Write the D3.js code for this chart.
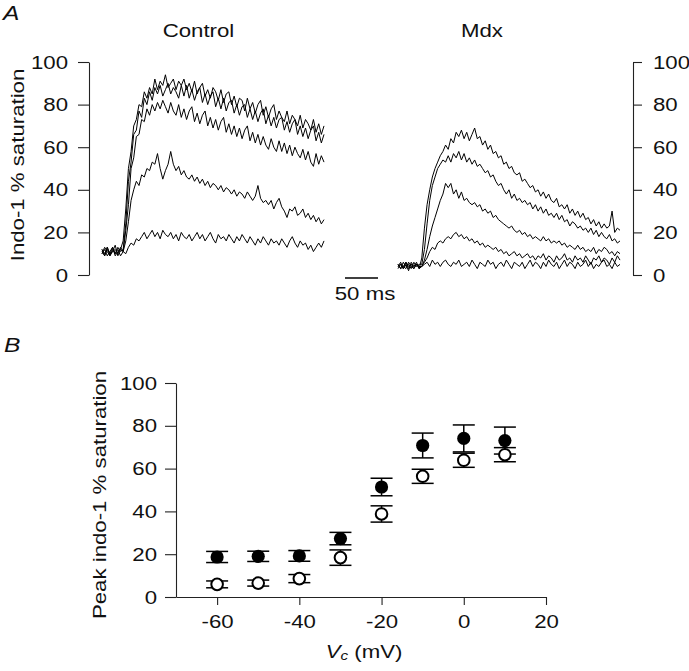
<!DOCTYPE html>
<html><head><meta charset="utf-8">
<script src="https://cdn.jsdelivr.net/npm/d3@7"></script>
<style>
body{margin:0;background:#fff;}
svg{display:block;font-family:"Liberation Sans",Arial,Helvetica,sans-serif;}
</style></head><body>
<svg id="c" width="689" height="671"></svg>
<script>
// ---------- Panel A: indo-1 traces (sampled every 4 ms, 0-336 ms) ----------
const SAMPLE_MS = 4;
const TRACE_MS = 336;
const control1 = [12,9,13,10,11,14,9,12, 16,31,50,58,70,73,80,79,86,83,88,85,
  92,87,91,89,94,88,90,92,87,91,89,
  92,87,90,86,91,85,88,90,84,87, 83,88,86,82,87,81,85,86,80,84, 79,83,82,77,83,78,81,76,80,82,
  75,79,74,78,80,73,77,74,72,77, 71,75,73,70,75,69,73,71,68,73, 67,71,66,70];
const control2 = [10,13,11,9,12,10,13,11, 12,24,44,53,66,68,77,74,83,80,86,82,
  88,85,89,84,87,90,85,88,86,83,89,
  84,89,83,87,82,86,88,81,85,80, 84,86,79,83,78,83,77,81,82,76, 80,75,79,80,74,78,73,77,72,76,
  78,71,75,70,74,69,73,74,68,72, 67,71,73,66,70,65,69,64,68,70, 63,67,62,66];
const control3 = [11,9,12,10,13,9,11,12, 11,21,33,50,55,65,66,73,72,78,75,80,
  77,81,78,82,79,
  76,81,77,75,80,74,78,73,77,79, 72,76,71,75,77,70,74,69,73,68, 72,74,67,71,66,70,65,69,64,68,
  70,63,67,62,66,61,65,61,59,64, 60,58,63,58,62,57,61,56,60,57, 55,59,54,58,53,51,57,52,56,53];
const control4 = [10,12,9,11,13,10,12,9,11, 16,25,35,40,44,42,47,46,50,49,53,52,
  57,50,45,49,52,58,52,49,51,47, 49,46,45,47,44,46,43,45,42,44, 41,43,42,40,42,39,41,40,38,40,
  37,39,38,36,39,37,35,37,42,36, 34,35,33,35,31,34,36,32,30,27, 31,30,32,28,29,31,27,29,26,28,
  25,27,24,26];
const control5 = [12,10,13,9,11,12,10,13,11,
  10,13,15,14,17,16,18,20,17,19, 21,18,20,17,21,19,18,20,17,19, 16,20,18,17,19,16,18,20,17,19,
  16,18,20,17,15,19,17,18,16,19, 17,15,18,16,19,17,15,18,16,14, 17,15,18,16,14,17,15,16,14,17,
  15,13,16,18,15,13,16,14,15,12, 14,11,13,15,13,16];

const mdx1 = [4,6,3,5,2,6,4,5,3,
  8,22,33,40,46,50,53,56,58,61, 59,64,62,67,65,68,64,67,63,66, 69,64,65,61,63,59,61,57,58,55,
  56,52,53,50,51,48,47,48,44,45, 43,41,42,39,40,37,39,36,38,35, 34,36,32,33,31,33,29,31,28,30,
  27,29,26,27,24,26,23,25,22,24, 22,23,30,20,22,21];
const mdx2 = [5,3,6,4,5,3,6,4,5,
  5,12,24,35,42,46,50,52,54,53, 56,53,57,55,58,54,57,53,55,52, 54,51,52,50,48,49,46,47,44,42,
  43,40,38,40,36,38,35,36,34,35, 33,34,31,33,30,32,29,31,28,29, 27,29,26,28,25,26,23,25,24,22,
  23,21,22,20,22,19,21,18,20,18, 17,19,16,17,15,16];
const mdx3 = [4,5,3,6,4,5,3,5,4,
  4,7,12,18,23,27,31,35,38,43, 41,43,38,40,36,39,35,36,34,33, 34,32,33,30,31,29,30,27,28,26,
  25,24,23,22,23,21,20,21,19,20, 18,19,17,18,17,16,18,16,17,15, 16,15,16,14,15,13,14,13,12,14,
  12,13,11,12,11,13,10,12,11,13, 12,10,11,9,11,10];
const mdx4 = [3,5,4,3,6,4,3,5,4,
  4,6,8,11,13,12,15,16,15,17, 18,17,19,20,18,19,17,18,16,17, 15,16,14,15,13,14,13,12,13,11,
  12,10,11,9,10,11,9,10,8,9, 10,8,9,7,9,8,10,7,9,8, 6,9,7,8,10,7,8,6,9,7,
  8,6,9,7,5,8,7,9,6,8, 7,5,8,6,9,7];
const mdx5 = [5,3,4,6,3,5,4,6,3,4, 5,6,4,7,5,6,4,6,7,5, 4,6,5,7,4,5,6,4,7,5, 3,6,5,4,7,5,6,3,5,6,
  4,7,5,3,6,5,4,6,3,5, 7,4,6,5,3,6,4,7,5,4, 6,3,5,7,4,6,5,3,6,4, 5,7,4,6,3,5,4,6,7,4, 5,3,6,4,5];

const controlTraces = [control1, control2, control3, control4, control5];
const mdxTraces = [mdx1, mdx2, mdx3, mdx4, mdx5];
const satTicks = [0, 20, 40, 60, 80, 100];
const scaleBarMs = 50;

// ---------- Panel B: peak indo-1 vs Vc ----------
const voltages = [-60, -50, -40, -30, -20, -10, 0, 10];
const controlPeak = [18.7, 19.0, 19.2, 27.3, 51.4, 70.8, 74.1, 73.1];
const controlSem  = [2.6, 2.4, 2.5, 2.9, 4.1, 5.8, 6.3, 6.3];
const mdxPeak = [5.9, 6.5, 8.6, 18.4, 38.8, 56.4, 63.9, 66.5];
const mdxSem  = [1.6, 1.4, 1.9, 3.6, 3.8, 3.3, 3.3, 3.3];
const vcTicks = [-60, -40, -20, 0, 20];

// ---------- drawing ----------
const SX = 1.17;        // horizontal stretch of the original lettering
const FS = 19;
const INK = "#111";
const svg = d3.select("#c");

function stretch(sel, rot) {
  sel.each(function () {
    const t = d3.select(this);
    const x = +t.attr("x") || 0, y = +t.attr("y") || 0;
    t.attr("x", 0).attr("y", 0)
     .attr("transform", `translate(${x},${y})${rot ? " rotate(" + rot + ")" : ""} scale(${SX},1)`);
  });
}
function label(txt, x, y, anchor, opts = {}) {
  const t = svg.append("text").attr("x", x).attr("y", y)
    .attr("text-anchor", anchor).attr("font-size", opts.size || FS)
    .attr("fill", INK).text(txt);
  if (opts.italic) t.attr("font-style", "italic");
  stretch(t, opts.rot);
  return t;
}
function styleAxis(g) {
  g.attr("font-size", FS).attr("font-family", null).attr("color", "#222");
  g.selectAll("path,line").attr("stroke-width", 1.1);
  stretch(g.selectAll("text").attr("fill", INK));
}
const plain = d => String(d);

// Panel A scales
const yA = d3.scaleLinear().domain([0, 100]).range([275, 62]);
const tCtrl = d3.scaleLinear().domain([0, TRACE_MS]).range([102, 324]);
const tMdx = d3.scaleLinear().domain([0, TRACE_MS]).range([398, 620]);

svg.append("g").attr("transform", "translate(89,0)")
  .call(d3.axisLeft(yA).tickValues(satTicks).tickFormat(plain).tickSize(11).tickSizeOuter(0).tickPadding(10))
  .call(styleAxis);
svg.append("g").attr("transform", "translate(633,0)")
  .call(d3.axisRight(yA).tickValues(satTicks).tickFormat(plain).tickSize(9).tickSizeOuter(0).tickPadding(11))
  .call(styleAxis);

const lineC = d3.line().x((d, i) => tCtrl(i * SAMPLE_MS)).y(d => yA(d));
const lineM = d3.line().x((d, i) => tMdx(i * SAMPLE_MS)).y(d => yA(d));
svg.append("g").selectAll("path").data(controlTraces).join("path")
  .attr("d", lineC).attr("fill", "none").attr("stroke", "#000").attr("stroke-width", 1);
svg.append("g").selectAll("path").data(mdxTraces).join("path")
  .attr("d", lineM).attr("fill", "none").attr("stroke", "#000").attr("stroke-width", 1);

// scale bar 50 ms
const barLen = tCtrl(scaleBarMs) - tCtrl(0);
svg.append("line").attr("x1", 345).attr("x2", 345 + barLen).attr("y1", 278).attr("y2", 278)
  .attr("stroke", "#000").attr("stroke-width", 1.6);
label("50 ms", 365, 300, "middle");

label("A", 3, 20, "start", { italic: true, size: 21 });
label("Control", 198.5, 37, "middle");
label("Mdx", 482, 37, "middle");
label("Indo-1 % saturation", 24, 165, "middle", { rot: -90 });

// Panel B
const yB = d3.scaleLinear().domain([0, 100]).range([597, 383]);
const xB = d3.scaleLinear().domain([-70, 20]).range([176, 546]);

svg.append("g").attr("transform", "translate(0,597)")
  .call(d3.axisBottom(xB).tickValues(vcTicks).tickFormat(plain).tickSize(8).tickSizeOuter(0).tickPadding(9.5))
  .call(styleAxis);
svg.append("g").attr("transform", "translate(176,0)")
  .call(d3.axisLeft(yB).tickValues(satTicks).tickFormat(plain).tickSize(11).tickSizeOuter(0).tickPadding(8))
  .call(styleAxis);

function drawSeries(peaks, sems, filled) {
  const g = svg.append("g");
  const rows = voltages.map((v, i) => ({ v, m: peaks[i], e: sems[i] }));
  const bars = g.selectAll("g.eb").data(rows).join("g").attr("class", "eb")
    .attr("stroke", "#000").attr("stroke-width", 1.5);
  bars.append("line").attr("x1", d => xB(d.v)).attr("x2", d => xB(d.v))
    .attr("y1", d => yB(d.m + d.e)).attr("y2", d => yB(d.m - d.e));
  [1, -1].forEach(s => bars.append("line")
    .attr("x1", d => xB(d.v) - 11).attr("x2", d => xB(d.v) + 11)
    .attr("y1", d => yB(d.m + s * d.e)).attr("y2", d => yB(d.m + s * d.e)));
  g.selectAll("circle").data(rows).join("circle")
    .attr("cx", d => xB(d.v)).attr("cy", d => yB(d.m))
    .attr("r", filled ? 6.6 : 5.8)
    .attr("fill", filled ? "#000" : "#fff")
    .attr("stroke", "#000").attr("stroke-width", filled ? 0 : 2);
}
drawSeries(controlPeak, controlSem, true);
drawSeries(mdxPeak, mdxSem, false);

label("B", 4, 352, "start", { italic: true, size: 21 });
label("Peak indo-1 % saturation", 106, 495, "middle", { rot: -90 });

const xl = svg.append("text").attr("x", 364).attr("y", 658).attr("text-anchor", "middle")
  .attr("font-size", FS).attr("fill", INK);
xl.append("tspan").attr("font-style", "italic").text("V");
xl.append("tspan").attr("font-style", "italic").attr("font-size", 13).attr("dy", 2).text("c");
xl.append("tspan").attr("dy", -2).text(" (mV)");
stretch(xl);
</script>
</body></html>
